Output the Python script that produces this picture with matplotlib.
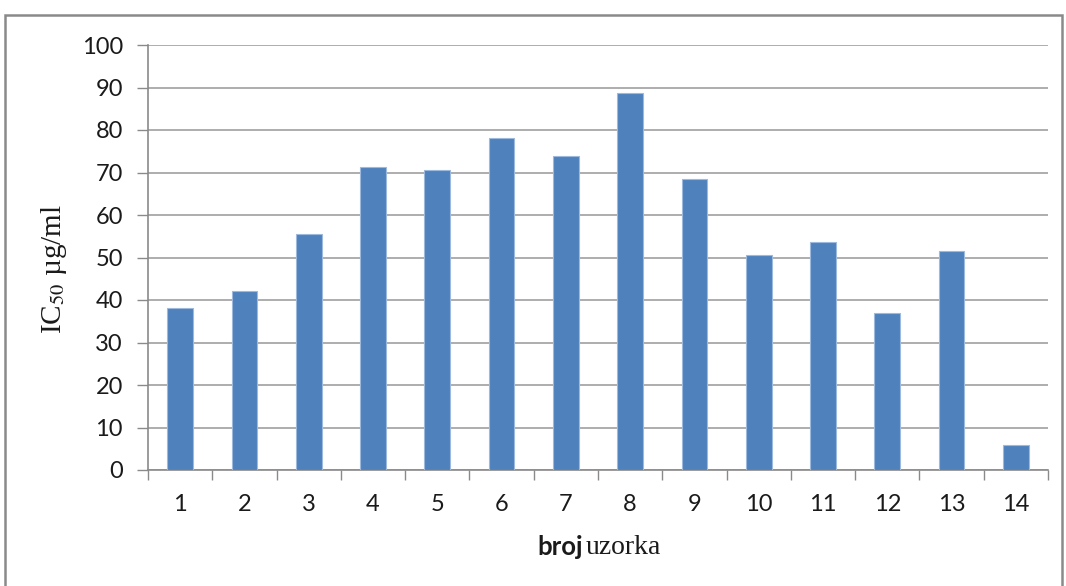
import matplotlib
matplotlib.use("Agg")
import matplotlib.pyplot as plt
from matplotlib.patches import Rectangle
import numpy as np

categories = ["1", "2", "3", "4", "5", "6", "7", "8", "9", "10", "11", "12", "13", "14"]
values = [38.2, 42.1, 55.6, 71.3, 70.5, 78.2, 73.8, 88.7, 68.4, 50.7, 53.7, 37.0, 51.6, 5.8]
yticks = [0, 10, 20, 30, 40, 50, 60, 70, 80, 90, 100]

W, H = 1066, 586
fig = plt.figure(figsize=(W / 100, H / 100), dpi=100)
fig.patch.set_facecolor("white")

# outer chart frame
fig.patches.append(Rectangle((4.5 / W, -0.05), (1062 - 4.5) / W, 1.05 - 15 / H,
                             transform=fig.transFigure, fill=False,
                             edgecolor="#8a8a8a", linewidth=1.8))

ax = fig.add_axes([148 / W, (H - 470) / H, (1048 - 148) / W, (470 - 45) / H])
x = np.arange(1, len(categories) + 1)
ax.bar(x, values, width=0.4, color="#4F81BD", edgecolor="#9DB9DE", linewidth=0.8, zorder=3)

ax.set_xlim(0.5, len(categories) + 0.5)
ax.set_ylim(0, 100)
ax.set_yticks(yticks)
ax.yaxis.grid(True, color="#a0a0a0", linewidth=1.2, zorder=0)
ax.set_axisbelow(True)

# x ticks at category boundaries, labels in the middle
ax.set_xticks(np.arange(0.5, len(categories) + 1, 1.0))
ax.set_xticklabels([])
ax.set_xticks(x, minor=True)
ax.set_xticklabels(categories, minor=True)
ax.tick_params(axis="x", which="major", length=7.5, width=1, color="#8a8a8a", direction="out")
ax.tick_params(axis="x", which="minor", length=0, pad=17)
ax.tick_params(axis="y", length=8, width=1, color="#8a8a8a", direction="out", pad=10)

for lab in ax.get_xticklabels(minor=True) + ax.get_yticklabels():
    lab.set_fontfamily("Lato")
    lab.set_fontsize(17)
    lab.set_color("#1a1a1a")

for s in ["top", "right"]:
    ax.spines[s].set_visible(False)
for s in ["left", "bottom"]:
    ax.spines[s].set_color("#8a8a8a")
    ax.spines[s].set_linewidth(1.2)

plt.rcParams["mathtext.fontset"] = "stix"
fig.text(54 / W, 1 - 269 / H, r"IC$_{50}$ µg/ml", rotation=90, ha="center", va="center",
         fontsize=21, family="Liberation Serif", color="#1a1a1a")

fig.text(583 / W, 1 - 547 / H, "broj", ha="right", va="center", fontsize=18.5,
         fontweight="bold", family="Lato", color="#1a1a1a")
fig.text(586 / W, 1 - 547 / H, "uzorka", ha="left", va="center", fontsize=20,
         family="Liberation Serif", color="#1a1a1a")

fig.savefig("out.png", dpi=100)
